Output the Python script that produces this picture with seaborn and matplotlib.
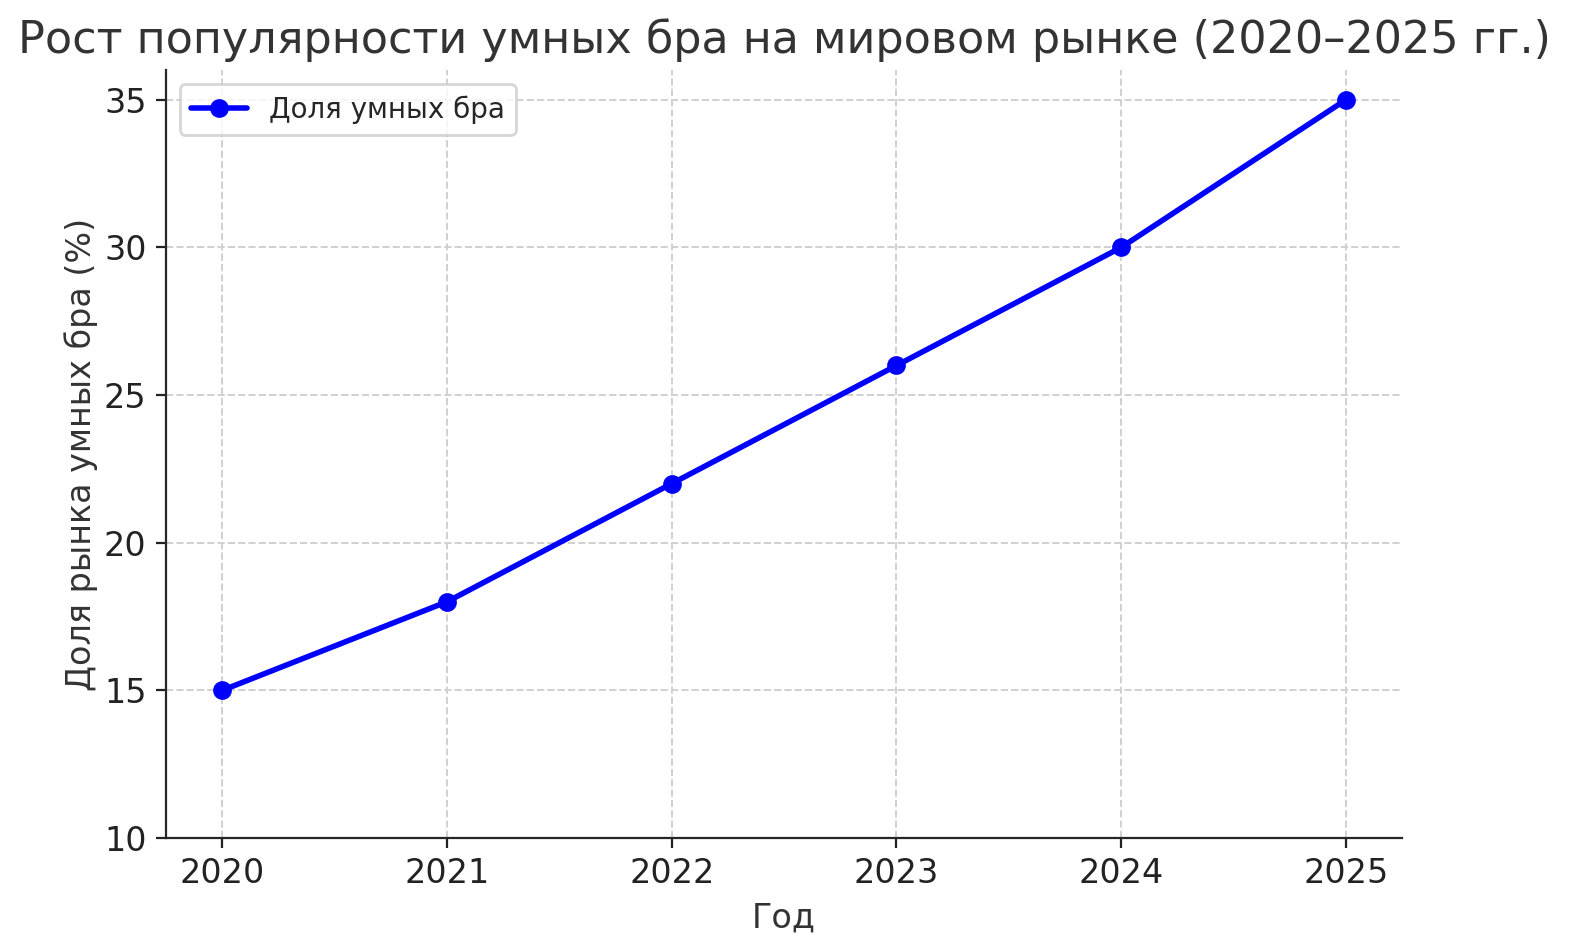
import numpy as np
import pandas as pd
import seaborn as sns
import matplotlib.pyplot as plt

years = [2020, 2021, 2022, 2023, 2024, 2025]
share = [15, 18, 22, 26, 30, 35]

df = pd.DataFrame({'Год': years, 'Доля': share})

sns.set_style("ticks")
plt.rcParams['font.family'] = ['DejaVu Sans']

fig, ax = plt.subplots(figsize=(7.86, 4.74), dpi=200)
sns.lineplot(x='Год', y='Доля', data=df, ax=ax, color='blue', marker='o',
             markersize=6, markeredgecolor='blue', linewidth=2,
             label='Доля умных бра')

ax.set_ylim(bottom=10)
ax.set_xticks(years)
ax.grid(True, linestyle='--', color='#d0d0d0', linewidth=0.7)
ax.set_title('Рост популярности умных бра на мировом рынке (2020–2025 гг.)',
             fontsize=16, color='#333333')
ax.set_xlabel('Год', fontsize=12, color='#333333')
ax.set_ylabel('Доля рынка умных бра (%)', fontsize=12, color='#333333', labelpad=2)
ax.tick_params(labelsize=12, colors='#222222')
ax.legend(loc='upper left', fontsize=10, frameon=True)
sns.despine(ax=ax)

# axes placement as in the reference (title wider than the axes)
plt.subplots_adjust(left=0.1056, right=0.892, top=0.926, bottom=0.116)
plt.savefig('out.png', dpi=200)
